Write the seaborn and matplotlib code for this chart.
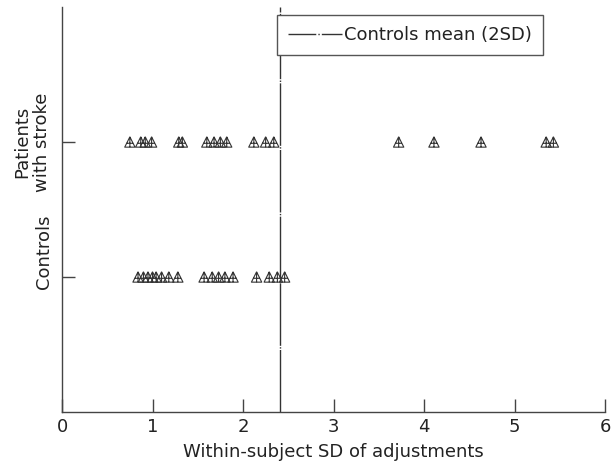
import pandas as pd
import matplotlib
matplotlib.use("Agg")
import matplotlib.pyplot as plt
import matplotlib.transforms as mtransforms
from matplotlib.path import Path
from matplotlib.lines import Line2D
import seaborn as sns

# values
stroke_sd = [0.75, 0.87, 0.92, 0.99, 1.29, 1.33, 1.60, 1.68, 1.75, 1.82,
             2.12, 2.25, 2.34, 3.72, 4.11, 4.63, 5.35, 5.43]
control_sd = [0.84, 0.90, 0.95, 1.00, 1.04, 1.10, 1.18, 1.28,
              1.57, 1.66, 1.73, 1.80, 1.89, 2.15, 2.29, 2.38, 2.46]
controls_mean_2sd = 2.41
group_names = ["Controls", "Patients\nwith stroke"]
group_pos = [1, 2]
x_ticks = [0, 1, 2, 3, 4, 5, 6]

df = pd.DataFrame({
    "sd": control_sd + stroke_sd,
    "row": [group_pos[0]] * len(control_sd) + [group_pos[1]] * len(stroke_sd),
})

sns.set_style("ticks")
plt.rcParams["font.family"] = ["DejaVu Sans"]
fs = 13

# open triangle with a cross inside
tri = Path(
    [(0, 1), (-1, -1), (1, -1), (0, 1), (0, 1), (0, -1), (-0.62, -0.25), (0.62, -0.25)],
    [Path.MOVETO, Path.LINETO, Path.LINETO, Path.LINETO,
     Path.MOVETO, Path.LINETO, Path.MOVETO, Path.LINETO],
)

fig = plt.figure(figsize=(6.15, 4.69), dpi=100)
ax = fig.add_axes([62 / 615, 57 / 469, 543 / 615, 405 / 469])

sns.scatterplot(data=df, x="sd", y="row", marker=tri, s=55,
                facecolor="none", edgecolor="#333333", linewidth=0.8, ax=ax)

ax.axvline(controls_mean_2sd, color="#333333", lw=1.0,
           linestyle=(0, (45, 1, 1, 1)))

ax.set_xlim(0, 6)
ax.set_ylim(0, 3)
ax.set_xticks(x_ticks)
ax.set_xticklabels([str(t) for t in x_ticks], fontsize=fs, color="#222222")
ax.set_yticks(group_pos)
ax.set_yticklabels([])
ax.tick_params(direction="in", length=9.5, width=1, color="#444444")
ax.tick_params(axis="x", pad=4)
ax.set_xlabel("Within-subject SD of adjustments", fontsize=fs, color="#222222", labelpad=5)
ax.set_ylabel("")

for s in ["top", "right"]:
    ax.spines[s].set_visible(False)
for s in ["left", "bottom"]:
    ax.spines[s].set_color("#444444")
    ax.spines[s].set_linewidth(1)

trans = mtransforms.blended_transform_factory(fig.transFigure, ax.transData)
ax.text(32 / 615, 2.0, group_names[1], transform=trans, rotation=90,
        ha="center", va="center", fontsize=fs, color="#222222",
        multialignment="center", linespacing=1.1)
ax.text(44 / 615, 1.19, group_names[0], transform=trans, rotation=90,
        ha="center", va="center", fontsize=fs, color="#222222")

handle = Line2D([], [], color="#333333", lw=1.0, linestyle=(0, (20, 1.5, 1, 1.5)))
leg = ax.legend([handle], ["Controls mean (2SD)"], loc="upper left",
                bbox_to_anchor=(277 / 615, 1 - 15 / 469), bbox_transform=fig.transFigure,
                borderaxespad=0, fancybox=False, framealpha=1, edgecolor="#555555",
                fontsize=fs, handlelength=3.0, handletextpad=0.1, borderpad=0.6)
leg.get_frame().set_linewidth(1)
for t in leg.get_texts():
    t.set_color("#222222")

fig.savefig("out.png", dpi=100)
